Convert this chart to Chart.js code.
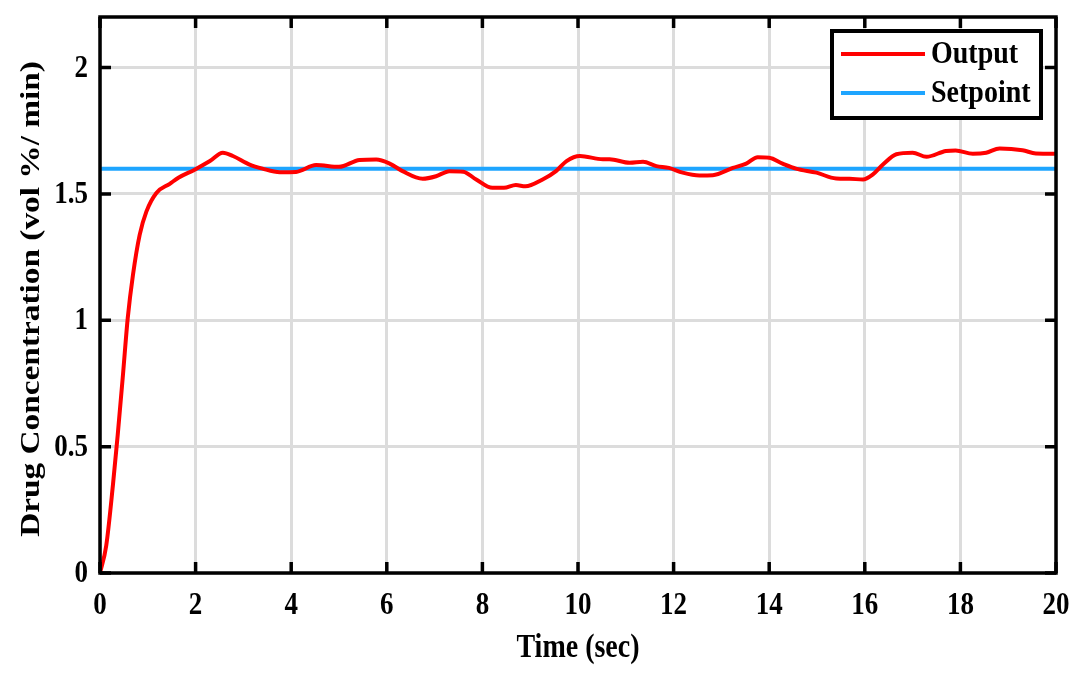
<!DOCTYPE html>
<html>
<head>
<meta charset="utf-8">
<script src="https://cdn.jsdelivr.net/npm/chart.js@4.4.0/dist/chart.umd.min.js"></script>
<style>
html,body{margin:0;padding:0;background:#fff;}
#wrap{width:1088px;height:674px;}
</style>
</head>
<body>
<div id="wrap"><canvas id="c" width="1088" height="674"></canvas></div>
<script>
const timeData = [0,0.13,0.27,0.37,0.48,0.58,0.69,0.83,0.97,1.18,1.46,1.64,1.98,2.3,2.57,2.78,3.13,3.4,3.76,4.1,4.52,5.0,5.43,5.78,6.06,6.33,6.75,7.03,7.31,7.6,7.87,8.21,8.45,8.7,8.9,9.26,9.54,9.76,10.04,10.52,10.66,11.08,11.36,11.64,11.9,12.19,12.54,12.82,13.24,13.52,13.76,14.0,14.28,14.56,14.99,15.4,15.68,15.96,16.17,16.38,16.66,17.0,17.29,17.7,17.9,18.26,18.54,18.82,19.3,19.58,20.0];
const outputData = [0,0.108,0.347,0.545,0.783,1.008,1.18,1.338,1.43,1.504,1.54,1.564,1.596,1.63,1.663,1.65,1.616,1.60,1.586,1.587,1.614,1.607,1.634,1.636,1.62,1.59,1.56,1.57,1.59,1.588,1.557,1.524,1.524,1.535,1.53,1.557,1.59,1.63,1.65,1.637,1.637,1.623,1.627,1.61,1.603,1.584,1.573,1.574,1.603,1.62,1.645,1.643,1.62,1.6,1.584,1.561,1.56,1.557,1.577,1.616,1.657,1.663,1.647,1.67,1.672,1.659,1.663,1.68,1.673,1.66,1.659];
const setpointTime = [0,20];
const setpointData = [1.6,1.6];
const seriesLabels = ['Output','Setpoint'];
const xTitle = 'Time (sec)';
const yTitle = 'Drug Concentration (vol %/ min)';
const xTickValues = [0,2,4,6,8,10,12,14,16,18,20];
const yTickValues = [0,0.5,1,1.5,2];

const FONT = "'Liberation Serif','Times New Roman',serif";
const RED = '#ff0000';
const BLUE = '#1ea5ff';
const STRETCH = 1.17;

function stretchedText(ctx, text, x, y, size, align, sy) {
  ctx.save();
  ctx.translate(x, y);
  ctx.scale(1, sy);
  ctx.font = 'bold ' + size + 'px ' + FONT;
  ctx.textAlign = align;
  ctx.textBaseline = 'middle';
  ctx.fillStyle = '#000';
  ctx.fillText(text, 0, 0);
  ctx.restore();
}

const framePlugin = {
  id: 'frame',
  afterDatasetsDraw(chart) {
    const ctx = chart.ctx, a = chart.chartArea;
    const xs = chart.scales.x, ys = chart.scales.y;
    ctx.save();
    ctx.strokeStyle = '#000';
    ctx.lineWidth = 3.5;
    ctx.lineCap = 'butt';
    ctx.beginPath();
    const tl = 11;
    xs.ticks.forEach(t => {
      const px = xs.getPixelForValue(t.value);
      ctx.moveTo(px, a.bottom); ctx.lineTo(px, a.bottom - tl);
      ctx.moveTo(px, a.top); ctx.lineTo(px, a.top + tl);
    });
    ys.ticks.forEach(t => {
      const py = ys.getPixelForValue(t.value);
      ctx.moveTo(a.left, py); ctx.lineTo(a.left + tl, py);
      ctx.moveTo(a.right, py); ctx.lineTo(a.right - tl, py);
    });
    ctx.stroke();
    ctx.strokeRect(a.left, a.top, a.right - a.left, a.bottom - a.top);

    // tick labels
    xs.ticks.forEach(t => {
      stretchedText(ctx, String(t.value), xs.getPixelForValue(t.value), a.bottom + 33, 27, 'center', STRETCH);
    });
    ys.ticks.forEach(t => {
      stretchedText(ctx, String(t.value), a.left - 12, ys.getPixelForValue(t.value) + 1, 27, 'right', STRETCH);
    });
    // axis titles
    stretchedText(ctx, xTitle, (a.left + a.right) / 2, 649, 28, 'center', STRETCH);
    ctx.save();
    ctx.translate(32, (a.top + a.bottom) / 2 + 4);
    ctx.rotate(-Math.PI / 2);
    ctx.scale(STRETCH + 0.02, 1);
    ctx.font = 'bold 28px ' + FONT;
    ctx.textAlign = 'center';
    ctx.textBaseline = 'middle';
    ctx.fillStyle = '#000';
    ctx.fillText(yTitle, 0, 0);
    ctx.restore();

    // legend
    const bx = 832, by = 31, bw = 209, bh = 87;
    ctx.fillStyle = '#fff';
    ctx.fillRect(bx, by, bw, bh);
    ctx.strokeStyle = '#000';
    ctx.lineWidth = 4;
    ctx.strokeRect(bx, by, bw, bh);
    const rows = [54, 93];
    chart.data.datasets.forEach((ds, i) => {
      ctx.strokeStyle = ds.borderColor;
      ctx.lineWidth = 4;
      ctx.beginPath();
      ctx.moveTo(841, rows[i]); ctx.lineTo(925, rows[i]);
      ctx.stroke();
      stretchedText(ctx, ds.label, 931, rows[i] + 1, 28, 'left', 1.1);
    });
    ctx.restore();
  }
};

const chart = new Chart(document.getElementById('c'), {
  type: 'line',
  data: {
    datasets: [
      {
        label: seriesLabels[0],
        data: timeData.map((t, i) => ({x: t, y: outputData[i]})),
        borderColor: RED,
        borderWidth: 4,
        pointRadius: 0,
        cubicInterpolationMode: 'monotone',
        fill: false
      },
      {
        label: seriesLabels[1],
        data: setpointTime.map((t, i) => ({x: t, y: setpointData[i]})),
        borderColor: BLUE,
        borderWidth: 4,
        pointRadius: 0,
        fill: false
      }
    ]
  },
  options: {
    responsive: false,
    animation: false,
    devicePixelRatio: 1,
    layout: { padding: { top: 17, right: 32, left: 0, bottom: 0 } },
    plugins: { legend: { display: false }, tooltip: { enabled: false } },
    scales: {
      x: {
        type: 'linear',
        min: 0, max: 20,
        afterFit(s) { s.height = 101; s.paddingLeft = 0; s.paddingRight = 0; },
        afterBuildTicks(s) { s.ticks = xTickValues.map(v => ({value: v})); },
        grid: { color: '#dcdcdc', lineWidth: 3, drawTicks: false },
        border: { display: false },
        ticks: { display: false }
      },
      y: {
        type: 'linear',
        min: 0, max: 2.2,
        afterFit(s) { s.width = 100; s.paddingTop = 0; s.paddingBottom = 0; },
        afterBuildTicks(s) { s.ticks = yTickValues.map(v => ({value: v})); },
        grid: { color: '#dcdcdc', lineWidth: 3, drawTicks: false },
        border: { display: false },
        ticks: { display: false }
      }
    }
  },
  plugins: [framePlugin]
});
</script>
</body>
</html>
